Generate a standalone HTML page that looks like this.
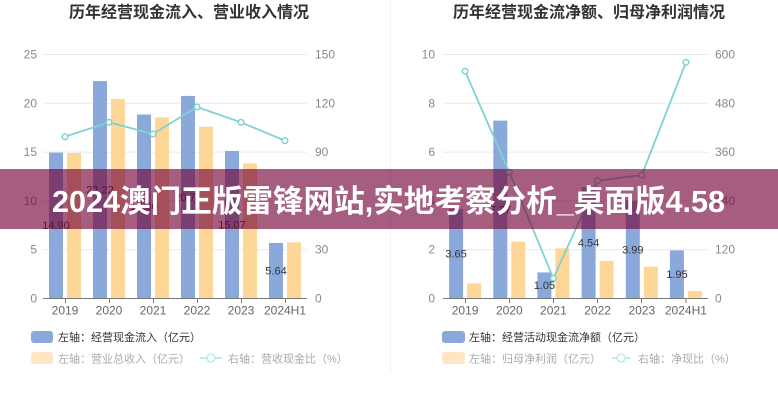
<!DOCTYPE html>
<html><head><meta charset="utf-8"><style>
html,body{margin:0;padding:0;background:#fff;}
svg{display:block;}
text{font-family:"Liberation Sans","Noto Sans CJK SC",sans-serif;}
</style></head><body>
<svg width="778" height="400" viewBox="0 0 778 400" xmlns="http://www.w3.org/2000/svg">
<rect width="778" height="400" fill="#fff"/>
<line x1="390.5" y1="0" x2="390.5" y2="372" stroke="#f2f2f2" stroke-width="1"/>

<!-- LEFT CHART -->
<text x="189" y="17.5" font-size="16" font-weight="bold" fill="#333" text-anchor="middle">历年经营现金流入、营业收入情况</text>
<g stroke="#e6e9ef" stroke-width="1">
<line x1="43" y1="54.5" x2="307" y2="54.5"/>
<line x1="43" y1="103.3" x2="307" y2="103.3"/>
<line x1="43" y1="152.1" x2="307" y2="152.1"/>
<line x1="43" y1="200.9" x2="307" y2="200.9"/>
<line x1="43" y1="249.7" x2="307" y2="249.7"/>
</g>
<g font-size="12" fill="#888" text-anchor="end">
<text x="37" y="58.5">25</text><text x="37" y="107.3">20</text><text x="37" y="156.1">15</text>
<text x="37" y="204.9">10</text><text x="37" y="253.7">5</text><text x="37" y="302.5">0</text>
</g>
<g font-size="12" fill="#888">
<text x="315" y="58.5">150</text><text x="315" y="107.3">120</text><text x="315" y="156.1">90</text>
<text x="315" y="204.9">60</text><text x="315" y="253.7">30</text><text x="315" y="302.5">0</text>
</g>
<g fill="#8aa8da">
<rect x="49" y="152.6" width="14" height="145.4"/>
<rect x="93" y="81.1" width="14" height="216.9"/>
<rect x="137" y="114.5" width="14" height="183.5"/>
<rect x="181" y="95.9" width="14" height="202.1"/>
<rect x="225" y="150.9" width="14" height="147.1"/>
<rect x="269" y="243" width="14" height="55"/>
</g>
<g fill="#fdd698">
<rect x="67" y="153" width="14" height="145"/>
<rect x="111" y="98.9" width="14" height="199.1"/>
<rect x="155" y="117.4" width="14" height="180.6"/>
<rect x="199" y="126.7" width="14" height="171.3"/>
<rect x="243" y="163.3" width="14" height="134.7"/>
<rect x="287" y="242.4" width="14" height="55.6"/>
</g>
<line x1="43" y1="298.5" x2="307" y2="298.5" stroke="#777" stroke-width="1"/>
<g stroke="#777" stroke-width="1">
<line x1="65.5" y1="298" x2="65.5" y2="303"/><line x1="109.5" y1="298" x2="109.5" y2="303"/>
<line x1="153.5" y1="298" x2="153.5" y2="303"/><line x1="197.5" y1="298" x2="197.5" y2="303"/>
<line x1="241.5" y1="298" x2="241.5" y2="303"/><line x1="285.5" y1="298" x2="285.5" y2="303"/>
</g>
<g font-size="12" fill="#666" text-anchor="middle">
<text x="65" y="314.5">2019</text><text x="109" y="314.5">2020</text><text x="153" y="314.5">2021</text>
<text x="197" y="314.5">2022</text><text x="241" y="314.5">2023</text><text x="285" y="314.5">2024H1</text>
</g>
<polyline points="65,136.7 109,122.3 153,134 197,107 241,122.3 285,140.7" fill="none" stroke="#80d2d2" stroke-width="1.8"/>
<g fill="#fff" stroke="#80d2d2" stroke-width="1.5">
<circle cx="65" cy="136.7" r="2.8"/><circle cx="109" cy="122.3" r="2.8"/><circle cx="153" cy="134" r="2.8"/>
<circle cx="197" cy="107" r="2.8"/><circle cx="241" cy="122.3" r="2.8"/><circle cx="285" cy="140.7" r="2.8"/>
</g>
<g font-size="11" fill="#333" text-anchor="middle">
<text x="56" y="229">14.90</text><text x="100" y="193.5">22.22</text><text x="144" y="210">18.80</text>
<text x="188" y="201">20.71</text><text x="232" y="228.5">15.07</text><text x="276" y="274.5">5.64</text>
</g>
<!-- left legend -->
<rect x="31" y="331" width="22" height="12" rx="3" fill="#8aa8da"/>
<text x="58" y="340.8" font-size="11" fill="#333">左轴：经营现金流入（亿元）</text>
<rect x="31" y="352" width="22" height="12" rx="3" fill="#fde6c6"/>
<text x="58" y="362.3" font-size="11" fill="#aaa">左轴：营业总收入（亿元）</text>
<line x1="200" y1="358" x2="222" y2="358" stroke="#c3eaea" stroke-width="2"/>
<circle cx="211" cy="358" r="4" fill="#fff" stroke="#c3eaea" stroke-width="1.5"/>
<text x="228" y="362.3" font-size="11" fill="#aaa">右轴：营收现金比（%）</text>

<!-- RIGHT CHART -->
<text x="589" y="17.5" font-size="16" font-weight="bold" fill="#333" text-anchor="middle">历年经营现金流净额、归母净利润情况</text>
<g stroke="#e6e9ef" stroke-width="1">
<line x1="443" y1="54.5" x2="708" y2="54.5"/>
<line x1="443" y1="103.3" x2="708" y2="103.3"/>
<line x1="443" y1="152.1" x2="708" y2="152.1"/>
<line x1="443" y1="200.9" x2="708" y2="200.9"/>
<line x1="443" y1="249.7" x2="708" y2="249.7"/>
</g>
<g font-size="12" fill="#888" text-anchor="end">
<text x="435" y="58.5">10</text><text x="435" y="107.3">8</text><text x="435" y="156.1">6</text>
<text x="435" y="204.9">4</text><text x="435" y="253.7">2</text><text x="435" y="302.5">0</text>
</g>
<g font-size="12" fill="#888">
<text x="715" y="58.5">600</text><text x="715" y="107.3">480</text><text x="715" y="156.1">360</text>
<text x="715" y="204.9">240</text><text x="715" y="253.7">120</text><text x="715" y="302.5">0</text>
</g>
<g fill="#8aa8da">
<rect x="449.1" y="208.9" width="14" height="89.1"/>
<rect x="493.3" y="120.6" width="14" height="177.4"/>
<rect x="537.4" y="272.4" width="14" height="25.6"/>
<rect x="581.6" y="187.2" width="14" height="110.8"/>
<rect x="625.8" y="200.6" width="14" height="97.4"/>
<rect x="669.9" y="250.4" width="14" height="47.6"/>
</g>
<g fill="#fdd698">
<rect x="467.1" y="283.3" width="14" height="14.7"/>
<rect x="511.3" y="241.7" width="14" height="56.3"/>
<rect x="555.4" y="248.3" width="14" height="49.7"/>
<rect x="599.6" y="261" width="14" height="37"/>
<rect x="643.8" y="266.7" width="14" height="31.3"/>
<rect x="687.9" y="291" width="14" height="7"/>
</g>
<line x1="443" y1="298.5" x2="708" y2="298.5" stroke="#777" stroke-width="1"/>
<g stroke="#777" stroke-width="1">
<line x1="465.5" y1="298" x2="465.5" y2="303"/><line x1="509.5" y1="298" x2="509.5" y2="303"/>
<line x1="553.5" y1="298" x2="553.5" y2="303"/><line x1="597.5" y1="298" x2="597.5" y2="303"/>
<line x1="641.5" y1="298" x2="641.5" y2="303"/><line x1="686" y1="298" x2="686" y2="303"/>
</g>
<g font-size="12" fill="#666" text-anchor="middle">
<text x="465.1" y="314.5">2019</text><text x="509.3" y="314.5">2020</text><text x="553.4" y="314.5">2021</text>
<text x="597.6" y="314.5">2022</text><text x="641.8" y="314.5">2023</text><text x="685.9" y="314.5">2024H1</text>
</g>
<polyline points="465.1,71.3 509.3,172.3 553.4,278.3 597.6,180.7 641.8,175 685.9,62.3" fill="none" stroke="#80d2d2" stroke-width="1.8"/>
<g fill="#fff" stroke="#80d2d2" stroke-width="1.5">
<circle cx="465.1" cy="71.3" r="2.8"/><circle cx="509.3" cy="172.3" r="2.8"/><circle cx="553.4" cy="278.3" r="2.8"/>
<circle cx="597.6" cy="180.7" r="2.8"/><circle cx="641.8" cy="175" r="2.8"/><circle cx="685.9" cy="62.3" r="2.8"/>
</g>
<g font-size="11" fill="#333" text-anchor="middle">
<text x="456.1" y="257.5">3.65</text><text x="500.3" y="213.3">7.27</text><text x="544.4" y="289.2">1.05</text>
<text x="588.6" y="246.6">4.54</text><text x="632.8" y="253.3">3.99</text><text x="676.9" y="278.2">1.95</text>
</g>
<!-- right legend -->
<rect x="442" y="331" width="23" height="12" rx="3" fill="#8aa8da"/>
<text x="469" y="340.8" font-size="11" fill="#333">左轴：经营活动现金流净额（亿元）</text>
<rect x="442" y="352" width="23" height="12" rx="3" fill="#fde6c6"/>
<text x="469" y="362.3" font-size="11" fill="#aaa">左轴：归母净利润（亿元）</text>
<line x1="612" y1="358" x2="630" y2="358" stroke="#c3eaea" stroke-width="2"/>
<circle cx="621" cy="358" r="4" fill="#fff" stroke="#c3eaea" stroke-width="1.5"/>
<text x="638" y="362.3" font-size="11" fill="#aaa">右轴：净现比（%）</text>

<!-- BANNER -->
<rect x="0" y="169" width="778" height="60" fill="rgb(113,0,52)" fill-opacity="0.63"/>
<text x="52" y="212" font-size="31" font-weight="bold" fill="#fff" textLength="673" lengthAdjust="spacingAndGlyphs">2024澳门正版雷锋网站,实地考察分析_桌面版4.58</text>
</svg>
</body></html>
